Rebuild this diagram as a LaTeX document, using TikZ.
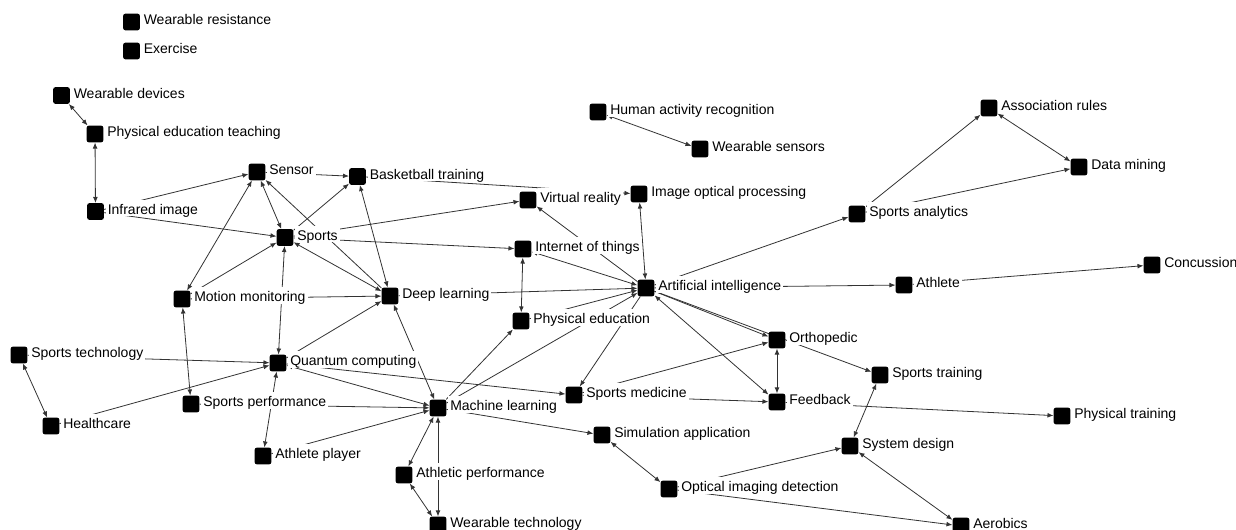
\documentclass[tikz,border=0pt]{standalone}
\usepackage{fontspec}
\setmainfont{Liberation Sans}
\usetikzlibrary{arrows.meta}
\pgfdeclarelayer{background}
\pgfsetlayers{background,main}

% a keyword: black square plus its white-backed label
\newcommand\kwnode[4]{%
  \node[kw] (#1) at (#2,#3) {};
  \node[lbl] (#1-t) at (#2+10,#3+3) {#4};}

\begin{document}
\begin{tikzpicture}[x=0.75pt,y=-0.75pt,
  kw/.style={draw=none, fill=black, rounded corners=1.5pt, minimum size=12.4pt, inner sep=0pt},
  lbl/.style={anchor=base west, fill=white, inner xsep=1.5pt, inner ysep=0pt,
    text height=11pt, text depth=1.5pt, font=\fontsize{10.5pt}{12pt}\selectfont},
  tip/.tip={Latex[length=4.5pt,width=3.6pt]},
  tie/.style={draw=black!80, line width=0.6pt, -tip},
  mutual/.style={draw=black!80, line width=0.6pt, tip-tip}
]
\useasboundingbox (0,0) rectangle (1236,530);

% keywords
\kwnode{wres}{131.5}{22}{Wearable resistance}
\kwnode{exer}{131.5}{51}{Exercise}
\kwnode{wdev}{61.5}{95.5}{Wearable devices}
\kwnode{pet}{95}{134}{Physical education teaching}
\kwnode{infra}{95.5}{211.5}{Infrared image}
\kwnode{sensor}{257}{172}{Sensor}
\kwnode{bball}{357.5}{176.5}{Basketball training}
\kwnode{sports}{285}{237.5}{Sports}
\kwnode{har}{598}{112}{Human activity recognition}
\kwnode{wsens}{700}{149}{Wearable sensors}
\kwnode{vr}{528}{200}{Virtual reality}
\kwnode{iop}{639}{194}{Image optical processing}
\kwnode{iot}{523}{249}{Internet of things}
\kwnode{ai}{646}{288}{Artificial intelligence}
\kwnode{pe}{521}{321}{Physical education}
\kwnode{arules}{989}{108}{Association rules}
\kwnode{dmin}{1079}{167}{Data mining}
\kwnode{sana}{857}{214}{Sports analytics}
\kwnode{athl}{904}{285}{Athlete}
\kwnode{conc}{1152}{265}{Concussion}
\kwnode{mm}{182}{299}{Motion monitoring}
\kwnode{dl}{390}{296}{Deep learning}
\kwnode{stech}{19}{355}{Sports technology}
\kwnode{qc}{278}{363}{Quantum computing}
\kwnode{sperf}{191}{404}{Sports performance}
\kwnode{health}{51}{426}{Healthcare}
\kwnode{aplay}{263}{456}{Athlete player}
\kwnode{ml}{438}{408}{Machine learning}
\kwnode{smed}{574}{395}{Sports medicine}
\kwnode{ortho}{777}{340}{Orthopedic}
\kwnode{fback}{777}{402}{Feedback}
\kwnode{simapp}{602}{435}{Simulation application}
\kwnode{aperf}{404}{475}{Athletic performance}
\kwnode{oid}{669}{489}{Optical imaging detection}
\kwnode{wtech}{438}{525}{Wearable technology}
\kwnode{strain}{880}{375}{Sports training}
\kwnode{ptrain}{1062}{416}{Physical training}
\kwnode{sysd}{850}{446}{System design}
\kwnode{aero}{961}{526}{Aerobics}

% ties between keywords
\begin{pgfonlayer}{background}
\draw[mutual] (wdev) -- (pet);
\draw[mutual] (pet) -- (infra);
\draw[tie] (infra) -- (sensor);
\draw[tie] (infra) -- (sports);
\draw[tie] (sensor) -- (bball);
\draw[mutual] (sensor) -- (sports);
\draw[tie] (dl) -- (sensor);
\draw[tie] (sports) -- (bball);
\draw[mutual] (sports) -- (dl);
\draw[mutual] (bball) -- (dl);
\draw[mutual] (mm) -- (sensor);
\draw[tie] (mm) -- (sports);
\draw[tie] (mm) -- (dl);
\draw[mutual] (sports) -- (qc);
\draw[tie] (sports) -- (vr);
\draw[tie] (sports) -- (iot);
\draw[tie] (bball) -- (iop);
\draw[tie] (ai) -- (vr);
\draw[mutual] (ai) -- (iop);
\draw[mutual] (iot) -- (ai);
\draw[tie] (dl) -- (ai);
\draw[mutual] (iot) -- (pe);
\draw[tie] (pe) -- (ai);
\draw[tie] (ml) -- (pe);
\draw[tie] (ml) -- (ai);
\draw[tie] (ai) -- (smed);
\draw[tie] (ai) -- (ortho);
\draw[tie] (ai) -- (strain);
\draw[mutual] (ai) -- (fback);
\draw[tie] (smed) -- (ortho);
\draw[mutual] (ortho) -- (fback);
\draw[tie] (smed) -- (fback);
\draw[tie] (qc) -- (smed);
\draw[tie] (ai) -- (athl);
\draw[tie] (athl) -- (conc);
\draw[tie] (ai) -- (sana);
\draw[mutual] (sana) -- (arules);
\draw[tie] (sana) -- (dmin);
\draw[mutual] (arules) -- (dmin);
\draw[mutual] (har) -- (wsens);
\draw[tie] (fback) -- (ptrain);
\draw[mutual] (strain) -- (sysd);
\draw[tie] (oid) -- (sysd);
\draw[tie] (oid) -- (aero);
\draw[mutual] (sysd) -- (aero);
\draw[mutual] (simapp) -- (oid);
\draw[tie] (ml) -- (simapp);
\draw[mutual] (ml) -- (aperf);
\draw[mutual] (ml) -- (wtech);
\draw[mutual] (aperf) -- (wtech);
\draw[mutual] (dl) -- (ml);
\draw[tie] (qc) -- (dl);
\draw[mutual] (qc) -- (ml);
\draw[tie] (sperf) -- (ml);
\draw[tie] (aplay) -- (ml);
\draw[mutual] (qc) -- (aplay);
\draw[mutual] (mm) -- (sperf);
\draw[tie] (stech) -- (qc);
\draw[tie] (health) -- (qc);
\draw[mutual] (stech) -- (health);
\end{pgfonlayer}
\end{tikzpicture}
\end{document}
